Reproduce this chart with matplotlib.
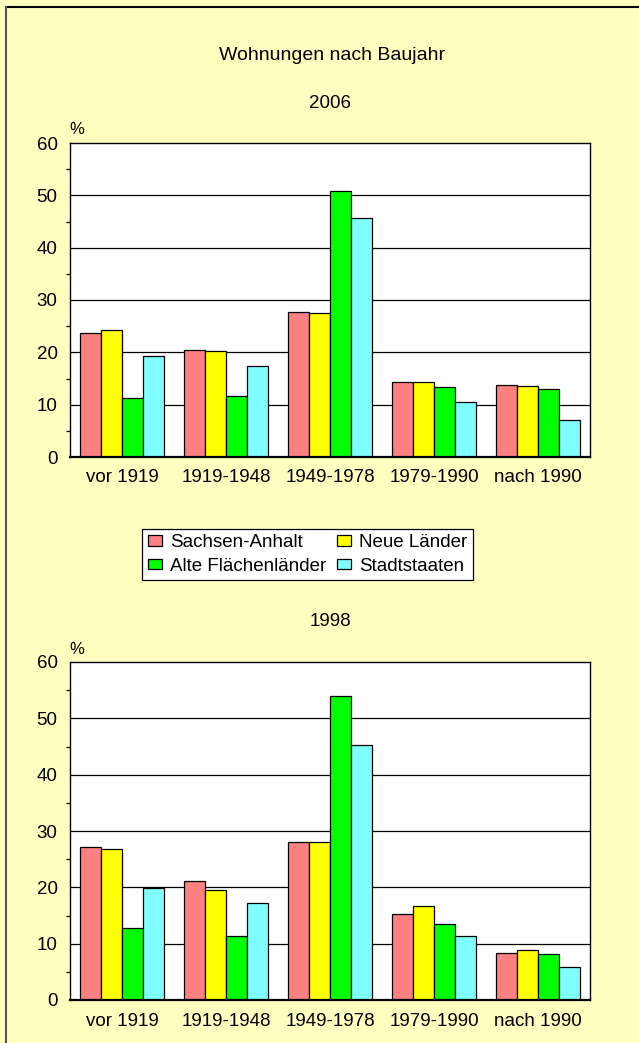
import numpy as np
import matplotlib
matplotlib.use("Agg")
import matplotlib.pyplot as plt
from matplotlib.lines import Line2D
from matplotlib.ticker import MultipleLocator

plt.rcParams["font.family"] = ["Liberation Sans", "DejaVu Sans"]
plt.rcParams["font.size"] = 13.5

# Wohnungen nach Baujahr, Anteile in %
categories = ["vor 1919", "1919-1948", "1949-1978", "1979-1990", "nach 1990"]
series = ["Sachsen-Anhalt", "Neue Länder", "Alte Flächenländer", "Stadtstaaten"]
colors = ["#FF8080", "#FFFF00", "#00FF00", "#80FFFF"]

sachsen_2006 = [23.7, 20.4, 27.8, 14.3, 13.8]
neue_2006 = [24.3, 20.2, 27.5, 14.3, 13.6]
alte_2006 = [11.3, 11.7, 50.9, 13.4, 12.9]
stadt_2006 = [19.3, 17.3, 45.7, 10.6, 7.1]

sachsen_1998 = [27.2, 21.1, 28.1, 15.3, 8.3]
neue_1998 = [26.8, 19.5, 28.1, 16.7, 8.9]
alte_1998 = [12.8, 11.4, 53.9, 13.5, 8.2]
stadt_1998 = [19.9, 17.2, 45.3, 11.3, 5.9]

data_2006 = [sachsen_2006, neue_2006, alte_2006, stadt_2006]
data_1998 = [sachsen_1998, neue_1998, alte_1998, stadt_1998]

W, H = 639, 1043
fig = plt.figure(figsize=(W / 100, H / 100), dpi=100, facecolor="#FFFFC0")


def draw_panel(ax, data):
    x = np.arange(len(categories))
    width = 0.2
    for i, (vals, col) in enumerate(zip(data, colors)):
        ax.bar(x + (i - 1.5) * width, vals, width, color=col,
               edgecolor="black", linewidth=0.9, label=series[i], zorder=3)
    ax.set_xlim(-0.5, len(categories) - 0.5)
    ax.set_ylim(0, 60)
    ax.set_facecolor("white")
    ax.yaxis.set_major_locator(MultipleLocator(10))
    ax.yaxis.set_minor_locator(MultipleLocator(5))
    for y in range(10, 60, 10):
        ax.axhline(y, color="black", linewidth=0.9, zorder=1)
    ax.set_xticks(x)
    ax.set_xticklabels(categories)
    ax.tick_params(axis="x", length=0, pad=9)
    ax.tick_params(axis="y", which="major", length=0, pad=9)
    ax.tick_params(axis="y", which="minor", length=3, width=0.9, direction="out")
    for s in ax.spines.values():
        s.set_color("black")
        s.set_linewidth(1.0)
    ax.spines["bottom"].set_linewidth(1.6)
    ax.spines["bottom"].set_zorder(4)


ax1 = fig.add_axes([70 / W, 1 - 457 / H, 520 / W, 314 / H])
draw_panel(ax1, data_2006)
ax2 = fig.add_axes([70 / W, 1 - 1000 / H, 520 / W, 338 / H])
draw_panel(ax2, data_1998)

fig.text(332 / W, 1 - 55 / H, "Wohnungen nach Baujahr", ha="center", va="center",
         fontsize=14)
fig.text(330 / W, 1 - 104 / H, "2006", ha="center", va="center")
fig.text(330 / W, 1 - 621 / H, "1998", ha="center", va="center")
fig.text(77 / W, 1 - 129 / H, "%", ha="center", va="center", fontsize=12)
fig.text(77 / W, 1 - 649 / H, "%", ha="center", va="center", fontsize=12)

# legend filled row by row: Sachsen-Anhalt, Neue Länder / Alte Flächenländer, Stadtstaaten
handles, labels = ax1.get_legend_handles_labels()
order = [0, 2, 1, 3]
leg = fig.legend([handles[i] for i in order], [labels[i] for i in order],
                 ncol=2, loc="center",
                 bbox_to_anchor=(307.5 / W, 1 - 554.5 / H),
                 frameon=True, fancybox=False, shadow=False,
                 edgecolor="black", facecolor="white", framealpha=1,
                 handlelength=0.75, handleheight=0.5, handletextpad=0.4,
                 columnspacing=0.6, labelspacing=0.35, borderpad=0.3,
                 borderaxespad=0)
leg.get_frame().set_linewidth(0.9)

# outer frame (top and left only)
fig.add_artist(Line2D([6 / W, 1], [1 - 7 / H, 1 - 7 / H], color="black",
                      linewidth=1.5, transform=fig.transFigure))
fig.add_artist(Line2D([6 / W, 6 / W], [0, 1 - 7 / H], color="#555555",
                      linewidth=1.5, transform=fig.transFigure))

fig.savefig("out.png", dpi=100, facecolor=fig.get_facecolor())
